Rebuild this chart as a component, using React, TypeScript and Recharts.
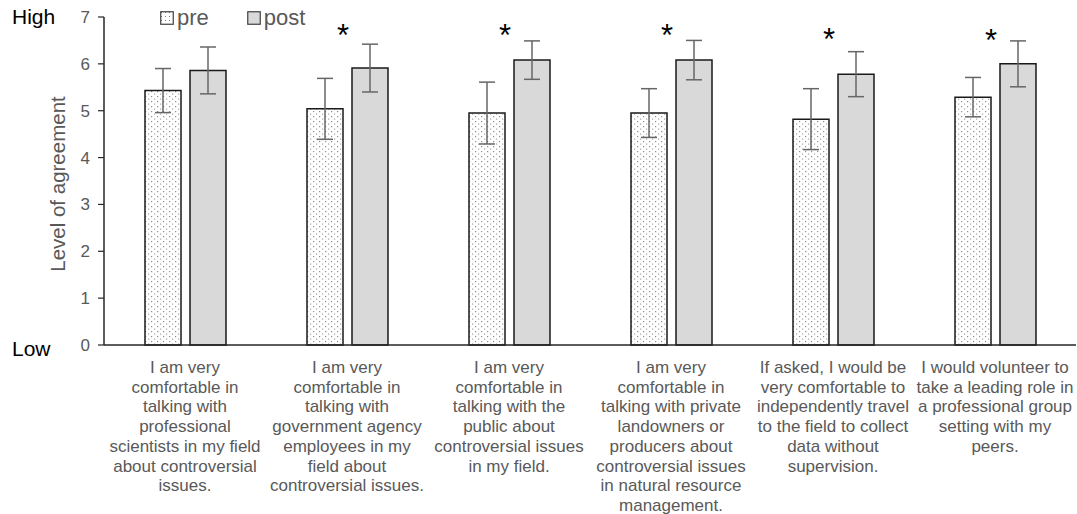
import {
  ComposedChart,
  Bar,
  Scatter,
  ErrorBar,
  XAxis,
  YAxis,
} from "recharts";

const categories = ["Scientists", "Agency", "Public", "Landowners", "Travel", "Leading"];

const categoryLines = [
  ["I am very", "comfortable in", "talking with", "professional", "scientists in my field", "about controversial", "issues."],
  ["I am very", "comfortable in", "talking with", "government agency", "employees in my", "field about", "controversial issues."],
  ["I am very", "comfortable in", "talking with the", "public about", "controversial issues", "in my field."],
  ["I am very", "comfortable in", "talking with private", "landowners or", "producers about", "controversial issues", "in natural resource", "management."],
  ["If asked, I would be", "very comfortable to", "independently travel", "to the field to collect", "data without", "supervision."],
  ["I would volunteer to", "take a leading role in", "a professional group", "setting with my", "peers."],
];

const preValues = [5.43, 5.04, 4.95, 4.95, 4.82, 5.29];
const preErrors = [0.47, 0.65, 0.66, 0.52, 0.65, 0.42];
const postValues = [5.86, 5.91, 6.08, 6.08, 5.78, 6.0];
const postErrors = [0.5, 0.51, 0.41, 0.42, 0.48, 0.49];
// level where the significance asterisk sits (null = not significant)
const starLevels = [null, 6.76, 6.76, 6.76, 6.67, 6.65];

const yTicks = [0, 1, 2, 3, 4, 5, 6, 7];

const FONT = '"Liberation Sans", Arial, sans-serif';
const GREY_TEXT = "#595959";

const data = categories.map((name, i) => ({
  name,
  pre: preValues[i],
  preErr: preErrors[i],
  post: postValues[i],
  postErr: postErrors[i],
  star: starLevels[i],
}));

const CategoryTick = ({ x, y, index }: any) => {
  const lines = categoryLines[index] || [];
  return (
    <text x={x} y={y} textAnchor="middle" fill={GREY_TEXT} fontSize={17} fontFamily={FONT}>
      {lines.map((line, i) => (
        <tspan key={i} x={x} dy={i === 0 ? 20 : 19.7}>
          {line}
        </tspan>
      ))}
    </text>
  );
};

const Asterisk = (props: any) => {
  const { cx, cy, payload } = props;
  if (payload == null || payload.star == null || cy == null || isNaN(cy)) return <g />;
  return (
    <text x={cx - 4} y={cy + 18} textAnchor="middle" fontSize={31} fontFamily={FONT} fill="#000">
      *
    </text>
  );
};

const DotSwatch = ({ id, dotted }: { id: string; dotted: boolean }) => (
  <svg width={14} height={14} style={{ marginRight: 3 }}>
    <defs>
      <pattern id={id} width={4} height={4} patternUnits="userSpaceOnUse">
        <rect width={4} height={4} fill="#fff" />
        <rect x={1} y={1} width={1} height={1} fill="#7f7f7f" />
      </pattern>
    </defs>
    <rect x={0.75} y={0.75} width={12.5} height={12.5} fill={dotted ? `url(#${id})` : "#d9d9d9"} stroke="#404040" strokeWidth={1.2} />
  </svg>
);

const LegendBox = () => (
  <div
    style={{
      position: "absolute",
      left: 160,
      top: 5,
      display: "flex",
      alignItems: "center",
      fontFamily: FONT,
      fontSize: 22,
      color: GREY_TEXT,
    }}
  >
    <div style={{ display: "flex", alignItems: "center", marginRight: 38 }}>
      <DotSwatch id="legendDots" dotted={true} />
      <span>pre</span>
    </div>
    <div style={{ display: "flex", alignItems: "center" }}>
      <DotSwatch id="legendGrey" dotted={false} />
      <span>post</span>
    </div>
  </div>
);

const YLabel = ({ viewBox }: any) => {
  const cx = 60;
  const cy = viewBox.y + viewBox.height / 2 + 3;
  return (
    <text
      x={cx}
      y={cy}
      transform={`rotate(-90, ${cx}, ${cy})`}
      textAnchor="middle"
      dominantBaseline="middle"
      fill={GREY_TEXT}
      fontSize={20.5}
      fontFamily={FONT}
    >
      Level of agreement
    </text>
  );
};

export default function App() {
  return (
    <div style={{ position: "absolute", left: 0, top: 0, width: 1077, height: 514, background: "#fff" }}>
      <ComposedChart
        width={1077}
        height={514}
        data={data}
        margin={{ top: 17, right: 1, left: 44, bottom: 9 }}
        barSize={36}
        barGap={9}
      >
        <defs>
          <pattern id="preDots" width={6} height={5} patternUnits="userSpaceOnUse">
            <rect width={6} height={5} fill="#fff" />
            <rect x={1} y={1} width={1.2} height={1.2} fill="#8c8c8c" />
            <rect x={4} y={3.5} width={1.2} height={1.2} fill="#a6a6a6" />
          </pattern>
        </defs>
        <XAxis
          dataKey="name"
          interval={0}
          height={160}
          tickLine={false}
          axisLine={{ stroke: "#262626", strokeWidth: 1.5 }}
          tick={<CategoryTick />}
        />
        <YAxis
          width={60}
          domain={[0, 7]}
          ticks={yTicks}
          interval={0}
          tickSize={6}
          tickMargin={8}
          axisLine={{ stroke: "#262626", strokeWidth: 1.5 }}
          tickLine={{ stroke: "#262626", strokeWidth: 1.2 }}
          tick={{ fill: GREY_TEXT, fontSize: 17, fontFamily: FONT }}
          label={<YLabel />}
        />
        <Bar dataKey="pre" fill="url(#preDots)" stroke="#1a1a1a" strokeWidth={1.5} isAnimationActive={false}>
          <ErrorBar dataKey="preErr" width={8} stroke="#666" strokeWidth={1.5} direction="y" />
        </Bar>
        <Bar dataKey="post" fill="#d9d9d9" stroke="#1a1a1a" strokeWidth={1.5} isAnimationActive={false}>
          <ErrorBar dataKey="postErr" width={8} stroke="#666" strokeWidth={1.5} direction="y" />
        </Bar>
        <Scatter dataKey="star" shape={<Asterisk />} isAnimationActive={false} legendType="none" />
      </ComposedChart>
      <LegendBox />
      <div style={{ position: "absolute", left: 12, top: 5, fontFamily: FONT, fontSize: 21, color: "#000" }}>High</div>
      <div style={{ position: "absolute", left: 12, top: 337, fontFamily: FONT, fontSize: 21, color: "#000" }}>Low</div>
    </div>
  );
}
